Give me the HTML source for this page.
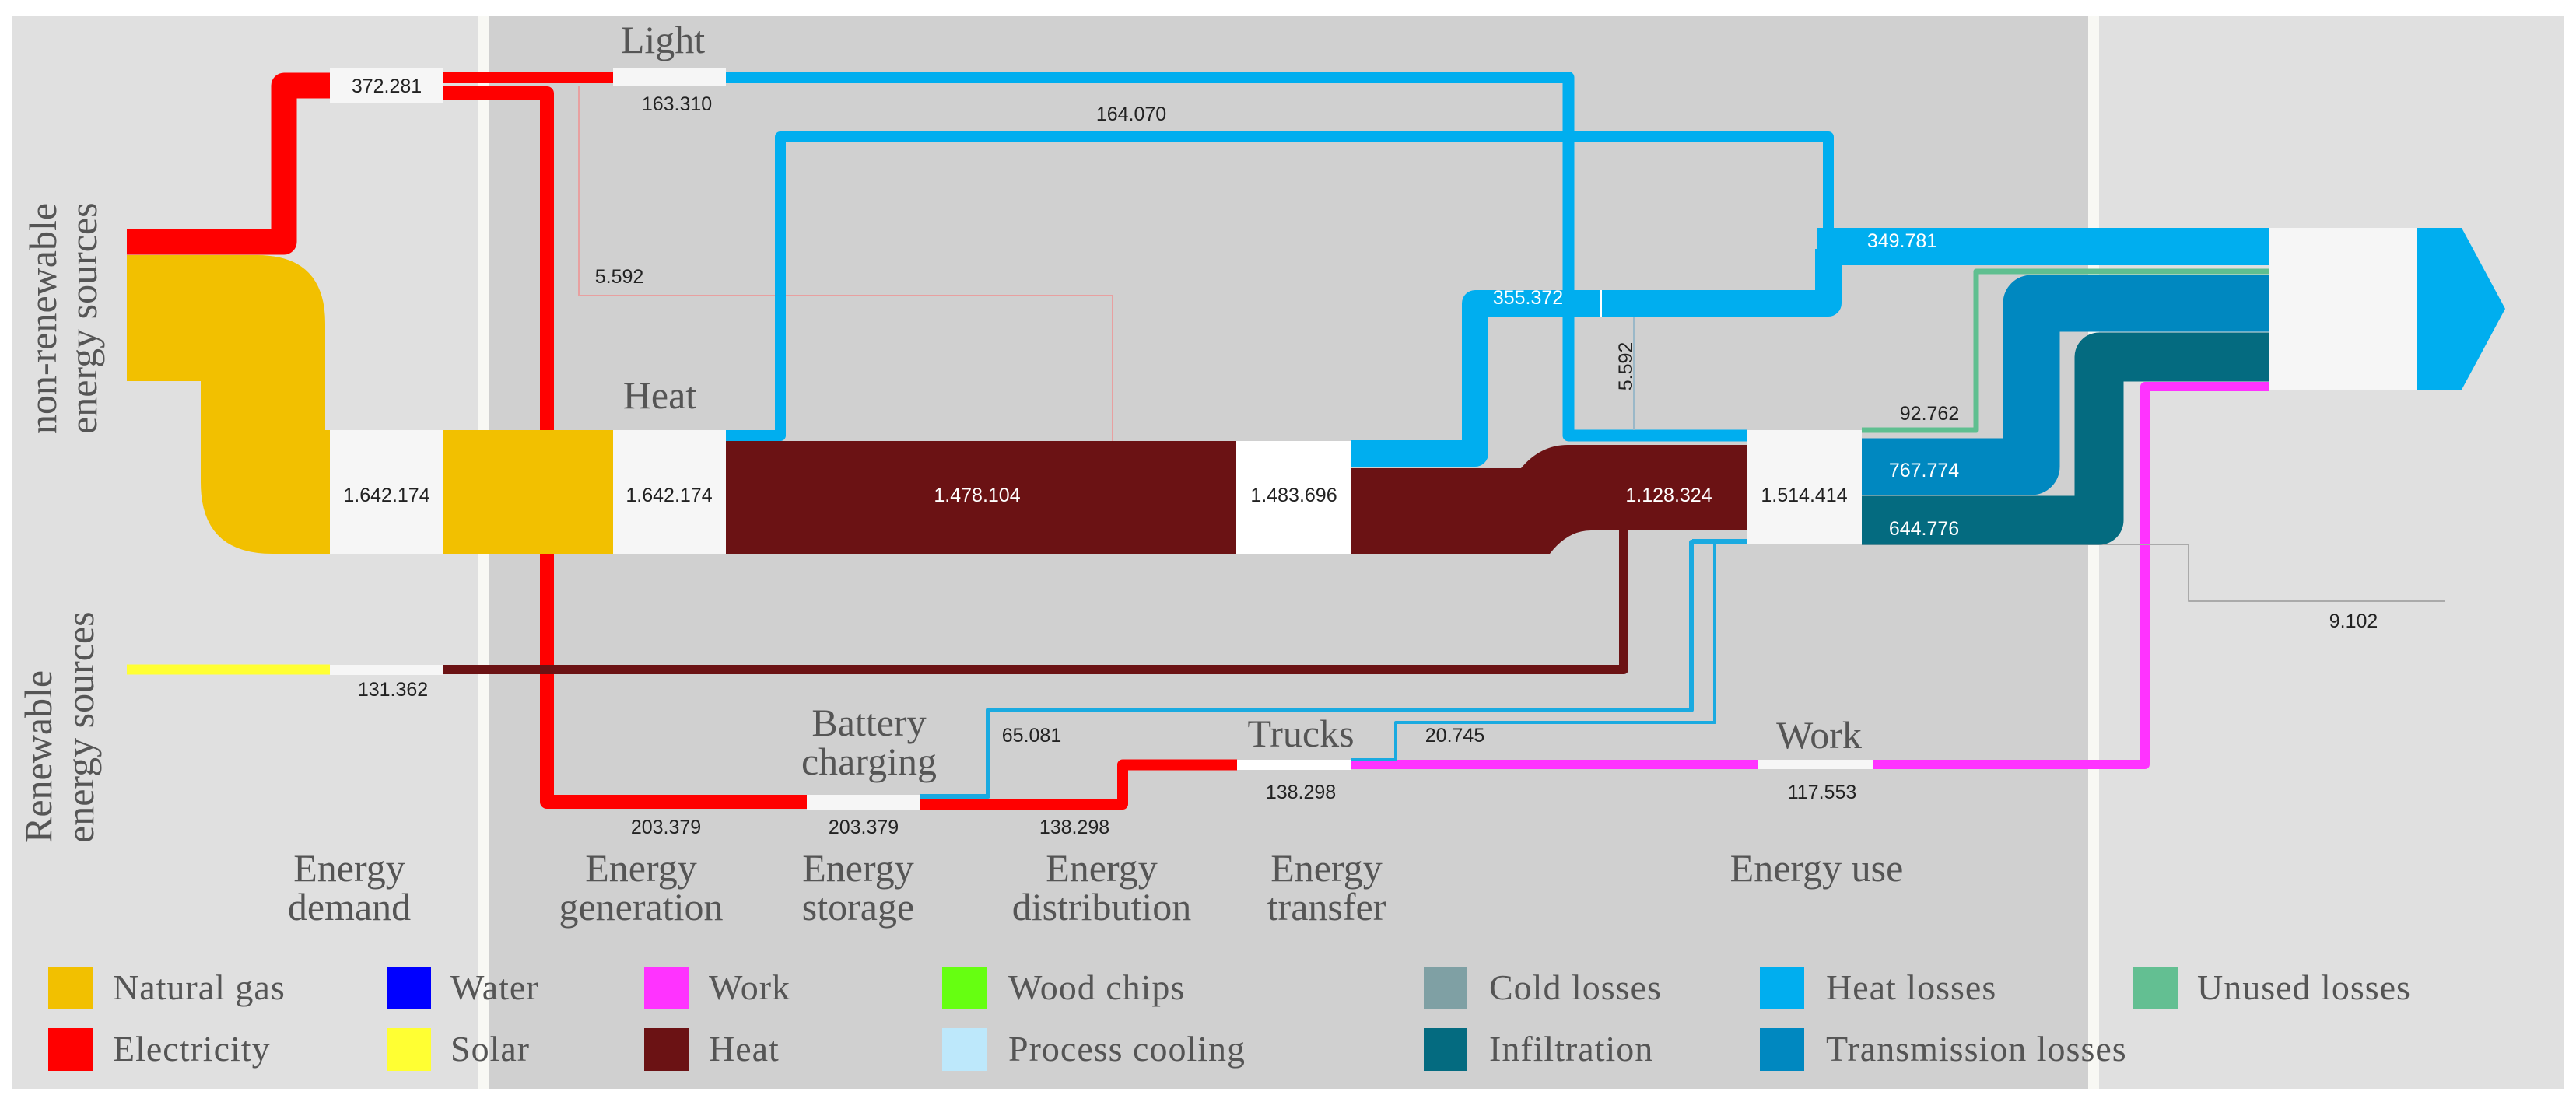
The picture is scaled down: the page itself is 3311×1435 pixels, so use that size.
<!DOCTYPE html>
<html><head><meta charset="utf-8"><style>
html,body{margin:0;padding:0;background:#fff;}
svg{display:block;}
.n{font-family:"Liberation Sans",sans-serif;font-size:25px;fill:#222;}
.w{font-family:"Liberation Sans",sans-serif;font-size:25px;fill:#fff;}
.s{font-family:"Liberation Serif",serif;font-size:50px;fill:#555;}
.l{font-family:"Liberation Serif",serif;font-size:46px;fill:#555;letter-spacing:1px;}
</style></head><body>
<svg width="3311" height="1435" viewBox="0 0 3311 1435" xmlns="http://www.w3.org/2000/svg">
<rect x="0" y="0" width="3311" height="1435" fill="#fff"/>
<rect x="15" y="20" width="599" height="1380" fill="#e0e0e0"/>
<rect x="614" y="20" width="14" height="1380" fill="#f8f8f4"/>
<rect x="628" y="20" width="2056" height="1380" fill="#d0d0d0"/>
<rect x="2684" y="20" width="14" height="1380" fill="#f8f8f4"/>
<rect x="2698" y="20" width="597" height="1380" fill="#e0e0e0"/>

<g fill="none" stroke-linejoin="round">
<!-- thin pink 5.592 -->
<path d="M744 110 V380 H1430 V567" stroke="#e8a0a0" stroke-width="2"/>
<!-- red -->
<path d="M163 311 H365 V110 H424" stroke="#ff0000" stroke-width="33"/>
<path d="M570 99.5 H788" stroke="#ff0000" stroke-width="15"/>
<path d="M570 120 H703 V1031 H1037" stroke="#ff0000" stroke-width="18"/>
<path d="M1183 1034 H1443 V983.5 H1590" stroke="#ff0000" stroke-width="14"/>
<!-- pink -->
<path d="M1737 983 H2260" stroke="#ff33ff" stroke-width="12"/>
<path d="M2407 983 H2757 V497 H2916" stroke="#ff33ff" stroke-width="12"/>
<!-- solar -->
<path d="M163 861 H424" stroke="#ffff33" stroke-width="13"/>
<path d="M570 861 H2087 V682" stroke="#6b1214" stroke-width="12"/>
<!-- blue light -->
<path d="M933 99.5 H2016 V560 H2246" stroke="#00aeef" stroke-width="15"/>
<path d="M933 560 H1003 V176 H2350 V300" stroke="#00aeef" stroke-width="14"/>
<path d="M1737 583 H1896 V390 H2350 V320" stroke="#00aeef" stroke-width="34"/>
<!-- thin blues -->
<path d="M1183 1024 H1270 V913 H2174 V697 H2246" stroke="#1aaae0" stroke-width="6"/>
<path d="M1737 977 H1794 V929 H2204 V697" stroke="#1aaae0" stroke-width="4"/>
<!-- gray lines -->
<path d="M2100 408 V553" stroke="#9ab8c8" stroke-width="2"/>
<path d="M2393 700 H2813 V773 H3142" stroke="#aaaaaa" stroke-width="2"/>
<!-- green -->
<path d="M2393 553 H2540 V349 H2916" stroke="#5fbf90" stroke-width="7"/>
<!-- transmission / infiltration -->
<path d="M2393 600 H2611 V390 H2916" stroke="#0088c0" stroke-width="73"/>
<path d="M2393 669 H2698 V459 H2916" stroke="#046b80" stroke-width="63"/>
</g>
<rect x="2335" y="293" width="581" height="48" fill="#00aeef"/>
<line x1="2058" y1="373" x2="2058" y2="408" stroke="#fff" stroke-width="2"/>

<!-- gas -->
<path d="M163 328 H330 Q418 328 418 416 V553 H424 V712 H350 Q258 712 258 620 V490 H163 Z" fill="#f2c000"/>
<rect x="570" y="553" width="218" height="159" fill="#f2c000"/>
<!-- heat -->
<rect x="933" y="567" width="656" height="145" fill="#6b1214"/>
<path d="M1737 602 H1955 Q1980 572 2015 572 H2246 V682 H2045 Q2015 682 1992 712 H1737 Z" fill="#6b1214"/>
<rect x="2175" y="693" width="71" height="7" fill="#1aaae0"/>

<!-- boxes -->
<rect x="424" y="87" width="146" height="46" fill="#f6f6f6"/>
<rect x="788" y="87" width="145" height="23" fill="#f6f6f6"/>
<rect x="424" y="553" width="146" height="159" fill="#f6f6f6"/>
<rect x="788" y="553" width="145" height="159" fill="#f6f6f6"/>
<rect x="424" y="855" width="146" height="13" fill="#f6f6f6"/>
<rect x="1589" y="567" width="148" height="145" fill="#fff"/>
<rect x="1037" y="1022" width="146" height="20" fill="#f6f6f6"/>
<rect x="1590" y="977" width="147" height="13" fill="#fff"/>
<rect x="2260" y="977" width="147" height="12" fill="#f6f6f6"/>
<rect x="2246" y="553" width="147" height="147" fill="#f6f6f6"/>
<rect x="2916" y="293" width="191" height="208" fill="#f6f6f6"/>
<polygon points="3107,293 3164,293 3220,397 3164,501 3107,501" fill="#00aeef"/>

<!-- numbers -->
<text class="n" x="497" y="119" text-anchor="middle">372.281</text>
<text class="n" x="870" y="142" text-anchor="middle">163.310</text>
<text class="n" x="1454" y="155" text-anchor="middle">164.070</text>
<text class="n" x="796" y="364" text-anchor="middle">5.592</text>
<text class="n" x="497" y="645" text-anchor="middle">1.642.174</text>
<text class="n" x="860" y="645" text-anchor="middle">1.642.174</text>
<text class="w" x="1256" y="645" text-anchor="middle">1.478.104</text>
<text class="n" x="1663" y="645" text-anchor="middle">1.483.696</text>
<text class="w" x="2145" y="645" text-anchor="middle">1.128.324</text>
<text class="n" x="2319" y="645" text-anchor="middle">1.514.414</text>
<text class="w" x="1964" y="391" text-anchor="middle">355.372</text>
<text class="w" x="2445" y="318" text-anchor="middle">349.781</text>
<text class="n" x="2480" y="540" text-anchor="middle">92.762</text>
<text class="w" x="2473" y="613" text-anchor="middle">767.774</text>
<text class="w" x="2473" y="688" text-anchor="middle">644.776</text>
<text class="n" transform="translate(2098,471) rotate(-90)" text-anchor="middle">5.592</text>
<text class="n" x="505" y="895" text-anchor="middle">131.362</text>
<text class="n" x="856" y="1072" text-anchor="middle">203.379</text>
<text class="n" x="1110" y="1072" text-anchor="middle">203.379</text>
<text class="n" x="1381" y="1072" text-anchor="middle">138.298</text>
<text class="n" x="1672" y="1027" text-anchor="middle">138.298</text>
<text class="n" x="1326" y="954" text-anchor="middle">65.081</text>
<text class="n" x="1870" y="954" text-anchor="middle">20.745</text>
<text class="n" x="2342" y="1027" text-anchor="middle">117.553</text>
<text class="n" x="3025" y="807" text-anchor="middle">9.102</text>

<!-- node labels -->
<text class="s" x="852" y="68" text-anchor="middle">Light</text>
<text class="s" x="848" y="525" text-anchor="middle">Heat</text>
<text class="s" x="1117" y="946" text-anchor="middle">Battery</text>
<text class="s" x="1117" y="996" text-anchor="middle">charging</text>
<text class="s" x="1672" y="960" text-anchor="middle">Trucks</text>
<text class="s" x="2338" y="962" text-anchor="middle">Work</text>

<!-- column labels -->
<g class="s" text-anchor="middle">
<text x="449" y="1133">Energy</text><text x="449" y="1183">demand</text>
<text x="824" y="1133">Energy</text><text x="824" y="1183">generation</text>
<text x="1103" y="1133">Energy</text><text x="1103" y="1183">storage</text>
<text x="1416" y="1133">Energy</text><text x="1416" y="1183">distribution</text>
<text x="1705" y="1133">Energy</text><text x="1705" y="1183">transfer</text>
<text x="2335" y="1133">Energy use</text>
</g>
<text class="s" transform="translate(72,558) rotate(-90)">non-renewable</text>
<text class="s" transform="translate(124,558) rotate(-90)">energy sources</text>
<text class="s" transform="translate(66,1084) rotate(-90)">Renewable</text>
<text class="s" transform="translate(120,1084) rotate(-90)">energy sources</text>

<!-- legend -->
<rect x="62" y="1243" width="57" height="54" fill="#f2c000"/>
<rect x="62" y="1322" width="57" height="55" fill="#ff0000"/>
<rect x="497" y="1243" width="57" height="54" fill="#0000ff"/>
<rect x="497" y="1322" width="57" height="55" fill="#ffff33"/>
<rect x="828" y="1243" width="57" height="54" fill="#ff33ff"/>
<rect x="828" y="1322" width="57" height="55" fill="#6b1214"/>
<rect x="1211" y="1243" width="57" height="54" fill="#66ff11"/>
<rect x="1211" y="1322" width="57" height="55" fill="#bde8fb"/>
<rect x="1830" y="1243" width="56" height="54" fill="#7fa0a4"/>
<rect x="1830" y="1322" width="56" height="55" fill="#046b80"/>
<rect x="2262" y="1243" width="57" height="54" fill="#00aeef"/>
<rect x="2262" y="1322" width="57" height="55" fill="#0088c0"/>
<rect x="2742" y="1243" width="57" height="54" fill="#63bf92"/>
<g class="l">
<text x="145" y="1285">Natural gas</text><text x="145" y="1364">Electricity</text>
<text x="579" y="1285">Water</text><text x="579" y="1364">Solar</text>
<text x="911" y="1285">Work</text><text x="911" y="1364">Heat</text>
<text x="1296" y="1285">Wood chips</text><text x="1296" y="1364">Process cooling</text>
<text x="1914" y="1285">Cold losses</text><text x="1914" y="1364">Infiltration</text>
<text x="2347" y="1285">Heat losses</text><text x="2347" y="1364">Transmission losses</text>
<text x="2824" y="1285">Unused losses</text>
</g>
</svg>
</body></html>
